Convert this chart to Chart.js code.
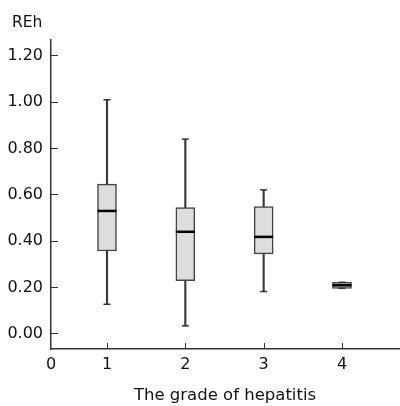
<!DOCTYPE html>
<html>
<head>
<meta charset="utf-8">
<script src="https://cdn.jsdelivr.net/npm/chart.js@4"></script>
<style>
  body { margin: 0; background: #fff; }
  canvas { display: block; }
</style>
</head>
<body>
<canvas id="myChart" width="400" height="406"></canvas>
<script>
// data
var grades = [1, 2, 3, 4];
var xTickLabels = ["0", "1", "2", "3", "4"];
var yTickValues = [0, 0.2, 0.4, 0.6, 0.8, 1.0, 1.2];
var whiskerLow = [0.128, 0.035, 0.183, 0.197];
var q1 = [0.358, 0.230, 0.346, 0.197];
var median = [0.531, 0.441, 0.419, 0.210];
var q3 = [0.647, 0.546, 0.550, 0.223];
var whiskerHigh = [1.011, 0.841, 0.622, 0.223];

var font = "'DejaVu Sans', Verdana, sans-serif";
var axisColor = "#333333";

var whiskers = grades.map(function (g, i) { return { x: g, y: [whiskerLow[i], whiskerHigh[i]] }; });
var boxes = grades.map(function (g, i) { return { x: g, y: [q1[i], q3[i]] }; });
var caps = [];
grades.forEach(function (g, i) {
  caps.push({ x: g, y: whiskerLow[i] });
  caps.push({ x: g, y: whiskerHigh[i] });
});
var medians = grades.map(function (g, i) { return { x: g, y: median[i] }; });

// "REh" above the y axis, and x tick marks pointing up into the plot
var axisExtras = {
  id: "axisExtras",
  afterDraw: function (chart) {
    var ctx = chart.ctx;
    var xs = chart.scales.x;
    ctx.save();
    ctx.strokeStyle = axisColor;
    ctx.lineWidth = 1;
    grades.forEach(function (g) {
      var px = Math.round(xs.getPixelForValue(g)) + 0.5;
      ctx.beginPath();
      ctx.moveTo(px, xs.top);
      ctx.lineTo(px, xs.top - 6);
      ctx.stroke();
    });
    ctx.font = "15.5px " + font;
    ctx.fillStyle = "#111";
    ctx.textBaseline = "middle";
    ctx.textAlign = "left";
    ctx.fillText("REh", 12, 23);
    ctx.restore();
  },
};

new Chart("myChart", {
  type: "bar",
  data: {
    datasets: [
      {
        type: "bar",
        data: whiskers,
        backgroundColor: "#3a3a3a",
        borderWidth: 0,
        barThickness: 1.5,
        grouped: false,
        order: 3,
      },
      {
        type: "bar",
        data: boxes,
        backgroundColor: "#dcdddc",
        borderColor: "#444444",
        borderWidth: 1.5,
        borderSkipped: false,
        barThickness: 19,
        grouped: false,
        order: 2,
      },
      {
        type: "scatter",
        data: caps,
        pointStyle: "line",
        pointRadius: 3.5,
        borderColor: "#333333",
        borderWidth: 1.5,
        order: 1,
      },
      {
        type: "scatter",
        data: medians,
        pointStyle: "line",
        pointRadius: 9.5,
        borderColor: "#000000",
        borderWidth: 2.5,
        order: 0,
      },
    ],
  },
  plugins: [axisExtras],
  options: {
    responsive: false,
    animation: false,
    layout: { autoPadding: false, padding: { left: 0, right: 1, top: 40, bottom: 0 } },
    plugins: {
      legend: { display: false },
      tooltip: { enabled: false },
      title: { display: false },
    },
    scales: {
      x: {
        type: "linear",
        min: 0.285,
        max: 4.728,
        offset: false,
        afterBuildTicks: function (scale) {
          scale.ticks = [scale.min].concat(grades).map(function (v) { return { value: v }; });
        },
        afterFit: function (scale) {
          scale.height = 57;
          scale.paddingLeft = 0;
          scale.paddingRight = 0;
        },
        ticks: {
          color: "#111",
          font: { family: font, size: 16 },
          padding: 6,
          maxRotation: 0,
          autoSkip: false,
          callback: function (v, i) { return xTickLabels[i]; },
        },
        grid: { display: false, drawTicks: false },
        border: { color: axisColor, width: 1.5 },
        title: {
          display: true,
          text: "The grade of hepatitis",
          color: "#111",
          font: { family: font, size: 16.5 },
          padding: { top: 0, bottom: 0.5 },
        },
      },
      y: {
        min: -0.065,
        max: 1.269,
        afterBuildTicks: function (scale) {
          scale.ticks = yTickValues.map(function (v) { return { value: v }; });
        },
        afterFit: function (scale) { scale.width = 51; },
        ticks: {
          color: "#111",
          font: { family: font, size: 16 },
          padding: 15,
          callback: function (v) { return v.toFixed(2); },
        },
        grid: { drawOnChartArea: false, tickLength: -7, color: axisColor, lineWidth: 1 },
        border: { color: axisColor, width: 1.5 },
      },
    },
  },
});
</script>
</body>
</html>
